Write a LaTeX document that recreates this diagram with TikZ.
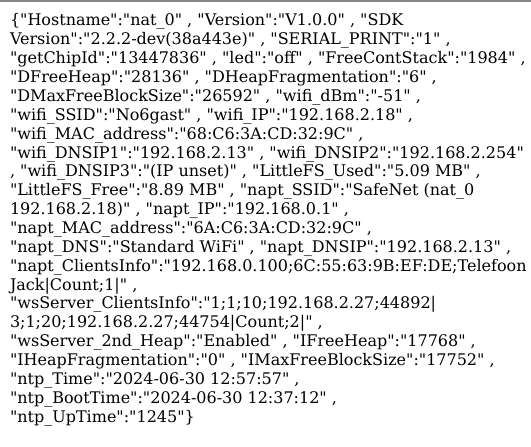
\documentclass[tikz,border=0pt]{standalone}
\usepackage{fontspec}
\setmainfont{DejaVu Serif}[Ligatures=TeXOff]
\begin{document}
\begin{tikzpicture}[x=1pt,y=1pt,
  ln/.style={anchor=base west,inner sep=0pt,outer sep=0pt,font=\fontsize{16}{19}\selectfont}]
\useasboundingbox (0,0) rectangle (531,447);
\fill[white] (0,0) rectangle (531,447);
\fill[black!47] (0,445.3) rectangle (531,447);
\def\lx{10}
\def\ly#1{\fpeval{447-26-18.86*(#1-1)}}
\node[ln] (l1) at (\lx,{\ly{1}}) {\{"Hostname":"nat\_0" , "Version":"V1.0.0" , "SDK};
\node[ln] (l2) at (\lx,{\ly{2}}) {Version":"2.2.2-dev(38a443e)" , "SERIAL\_PRINT":"1" ,};
\node[ln] (l3) at (\lx,{\ly{3}}) {"getChipId":"13447836" , "led":"off" , "FreeContStack":"1984" ,};
\node[ln] (l4) at (\lx,{\ly{4}}) {"DFreeHeap":"28136" , "DHeapFragmentation":"6" ,};
\node[ln] (l5) at (\lx,{\ly{5}}) {"DMaxFreeBlockSize":"26592" , "wifi\_dBm":"-51" ,};
\node[ln] (l6) at (\lx,{\ly{6}}) {"wifi\_SSID":"No6gast" , "wifi\_IP":"192.168.2.18" ,};
\node[ln] (l7) at (\lx,{\ly{7}}) {"wifi\_MAC\_address":"68:C6:3A:CD:32:9C" ,};
\node[ln] (l8) at (\lx,{\ly{8}}) {"wifi\_DNSIP1":"192.168.2.13" , "wifi\_DNSIP2":"192.168.2.254"};
\node[ln] (l9) at (\lx,{\ly{9}}) {, "wifi\_DNSIP3":"(IP unset)" , "LittleFS\_Used":"5.09 MB" ,};
\node[ln] (l10) at (\lx,{\ly{10}}) {"LittleFS\_Free":"8.89 MB" , "napt\_SSID":"SafeNet (nat\_0};
\node[ln] (l11) at (\lx,{\ly{11}}) {192.168.2.18)" , "napt\_IP":"192.168.0.1" ,};
\node[ln] (l12) at (\lx,{\ly{12}}) {"napt\_MAC\_address":"6A:C6:3A:CD:32:9C" ,};
\node[ln] (l13) at (\lx,{\ly{13}}) {"napt\_DNS":"Standard WiFi" , "napt\_DNSIP":"192.168.2.13" ,};
\node[ln] (l14) at (\lx,{\ly{14}}) {"napt\_ClientsInfo":"192.168.0.100;6C:55:63:9B:EF:DE;Telefoon};
\node[ln] (l15) at (\lx,{\ly{15}}) {Jack|Count;1|" ,};
\node[ln] (l16) at (\lx,{\ly{16}}) {"wsServer\_ClientsInfo":"1;1;10;192.168.2.27;44892|};
\node[ln] (l17) at (\lx,{\ly{17}}) {3;1;20;192.168.2.27;44754|Count;2|" ,};
\node[ln] (l18) at (\lx,{\ly{18}}) {"wsServer\_2nd\_Heap":"Enabled" , "IFreeHeap":"17768" ,};
\node[ln] (l19) at (\lx,{\ly{19}}) {"IHeapFragmentation":"0" , "IMaxFreeBlockSize":"17752" ,};
\node[ln] (l20) at (\lx,{\ly{20}}) {"ntp\_Time":"2024-06-30 12:57:57" ,};
\node[ln] (l21) at (\lx,{\ly{21}}) {"ntp\_BootTime":"2024-06-30 12:37:12" ,};
\node[ln] (l22) at (\lx,{\ly{22}}) {"ntp\_UpTime":"1245"\}};
\end{tikzpicture}
\end{document}
